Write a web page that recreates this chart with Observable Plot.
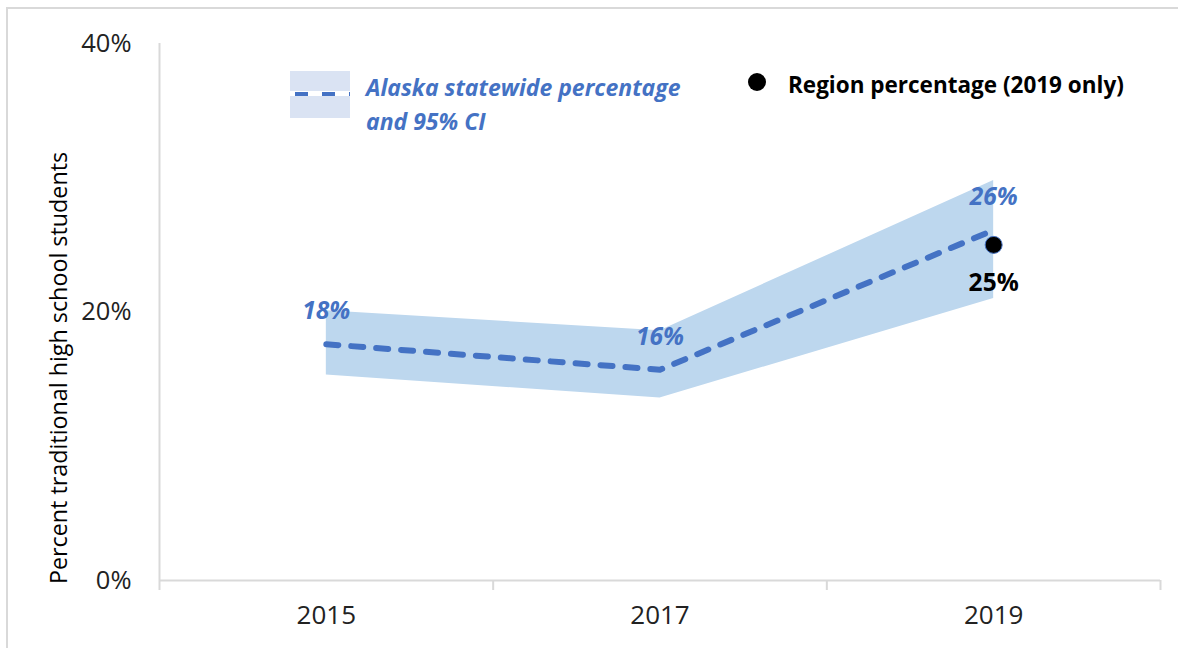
<!DOCTYPE html>
<html>
<head>
<meta charset="utf-8">
<script src="https://cdn.jsdelivr.net/npm/d3@7"></script>
<script src="https://cdn.jsdelivr.net/npm/@observablehq/plot@0.6"></script>
<style>
  html, body { margin: 0; padding: 0; background: #fff; }
  body { width: 1178px; height: 648px; overflow: hidden; font-family: "Open Sans", sans-serif; }
  #wrap { position: relative; width: 1178px; height: 648px; }
  #frame { position: absolute; left: 6px; top: 7px; right: 0; bottom: 0; border-left: 2px solid #d9d9d9; border-top: 2px solid #d9d9d9; pointer-events: none; }
  #chart { position: absolute; left: 0; top: 0; }
  .ytitle { position: absolute; left: 58px; top: 368px; transform: translate(-50%, -50%) rotate(-90deg); white-space: nowrap; font-size: 23.3px; color: #000; }
  .leg1 { position: absolute; left: 290px; top: 71px; }
  .leg1text { position: absolute; left: 366px; top: 70px; font-size: 23px; font-weight: 700; font-style: italic; color: #4472c4; line-height: 34px; }
  .leg2dot { position: absolute; left: 748px; top: 73px; width: 18px; height: 18px; border-radius: 50%; background: #000; }
  .leg2text { position: absolute; left: 788px; top: 69px; font-size: 22.5px; font-weight: 700; color: #000; }
</style>
</head>
<body>
<div id="wrap">
  <div id="chart"></div>
  <div class="ytitle">Percent traditional high school students</div>
  <svg class="leg1" width="62" height="48">
    <rect x="0" y="0" width="60" height="20" fill="#dae3f3"></rect>
    <rect x="0" y="25" width="60" height="22" fill="#dae3f3"></rect>
    <line x1="5" y1="23" x2="60" y2="23" stroke="#4472c4" stroke-width="4" stroke-dasharray="13,14"></line>
  </svg>
  <div class="leg1text">Alaska statewide percentage<br>and 95% CI</div>
  <div class="leg2dot"></div>
  <div class="leg2text">Region percentage (2019 only)</div>
  <div id="frame"></div>
</div>
<script>
const years = [2015, 2017, 2019];
const statewide = [0.176, 0.157, 0.261];
const ciLow = [0.153, 0.136, 0.210];
const ciHigh = [0.201, 0.186, 0.298];
const regionYear = [2019];
const regionValue = [0.250];
const yTicks = [0, 0.2, 0.4];

const rows = years.map((yr, i) => ({year: yr, v: statewide[i], lo: ciLow[i], hi: ciHigh[i]}));
const region = regionYear.map((yr, i) => ({year: yr, v: regionValue[i]}));
const boundaries = [years[0] - 1, ...years.map(y => y + 1)];

const blue = "#4472c4";
const fmt = d3.format(".0%");

const chart = Plot.plot({
  width: 1178,
  height: 648,
  marginLeft: 159,
  marginRight: 18,
  marginTop: 43,
  marginBottom: 68,
  style: {fontFamily: "Open Sans, sans-serif", background: "transparent"},
  x: {domain: [boundaries[0], boundaries[boundaries.length - 1]]},
  y: {domain: [0, 0.4]},
  marks: [
    Plot.areaY(rows, {x: "year", y1: "lo", y2: "hi", fill: "#bdd7ee"}),
    Plot.ruleY([0], {stroke: "#d9d9d9", strokeWidth: 2}),
    Plot.ruleX([boundaries[0]], {y1: 0, y2: 0.4, stroke: "#d9d9d9", strokeWidth: 2}),
    Plot.axisX({ticks: boundaries, tickSize: 10, tickFormat: () => "", stroke: "#d9d9d9", strokeWidth: 2, label: null}),
    Plot.axisX({ticks: years, tickSize: 0, tickPadding: 25, tickFormat: d => String(d), fontSize: 26, fill: "#222", label: null}),
    Plot.axisY({ticks: yTicks, tickSize: 0, tickPadding: 28, tickFormat: fmt, fontSize: 25.5, fill: "#222", label: null}),
    Plot.lineY(rows, {x: "year", y: "v", stroke: blue, strokeWidth: 6, strokeDasharray: "12,13", strokeLinecap: "round", strokeLinejoin: "round"}),
    Plot.text(rows, {x: "year", y: "v", text: d => fmt(d.v), dy: -33, fill: blue, fontSize: 24.5, fontWeight: "bold", fontStyle: "italic"}),
    Plot.dot(region, {x: "year", y: "v", r: 8.5, fill: "#000", stroke: blue, strokeWidth: 1}),
    Plot.text(region, {x: "year", y: "v", text: d => fmt(d.v), dy: 38, fill: "#000", fontSize: 24.5, fontWeight: "bold"})
  ]
});
document.getElementById("chart").appendChild(chart);
</script>
</body>
</html>
